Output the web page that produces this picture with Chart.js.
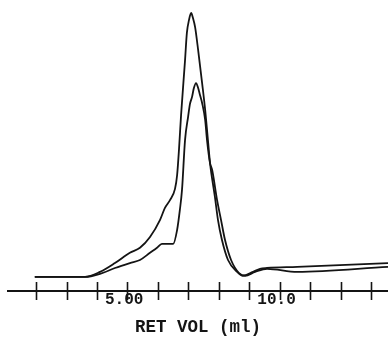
<!DOCTYPE html>
<html>
<head>
<meta charset="utf-8">
<script src="https://cdn.jsdelivr.net/npm/chart.js@4/dist/chart.umd.min.js"></script>
<style>
  html, body { margin: 0; padding: 0; background: #fff; }
  canvas { display: block; }
</style>
</head>
<body>
<canvas id="retChart" width="388" height="337"></canvas>
<script>
// retention volume (ml) and detector response
const volA = [2.96, 3.79, 4.61, 5.10, 5.59, 6.08, 6.41, 6.74, 7.07, 7.23, 7.40, 7.56, 7.63, 7.69, 7.76, 7.89, 7.95, 8.02, 8.09, 8.15, 8.22, 8.32, 8.45, 8.55, 8.64, 8.71, 8.87, 8.97, 9.10, 9.30, 9.60, 9.79, 10.12, 10.35, 10.58, 11.57, 14.55];
const respA = [4.7, 4.7, 4.7, 6.5, 9.7, 13.4, 15.2, 19.1, 25.3, 29.6, 32.5, 36.5, 41.5, 50.5, 63.2, 83.0, 92.8, 97.5, 100.0, 98.2, 94.9, 86.6, 74.7, 65.0, 54.2, 45.8, 33.6, 25.3, 18.1, 10.8, 6.5, 5.1, 6.5, 7.6, 7.9, 8.3, 9.7];

const volB = [2.96, 3.79, 4.61, 5.10, 5.59, 6.08, 6.41, 6.74, 6.97, 7.13, 7.50, 7.63, 7.72, 7.79, 7.89, 7.99, 8.05, 8.12, 8.18, 8.25, 8.32, 8.38, 8.45, 8.55, 8.61, 8.71, 8.78, 8.94, 9.07, 9.20, 9.40, 9.66, 9.86, 10.19, 10.58, 11.57, 14.55];
const respB = [4.7, 4.7, 4.7, 5.8, 7.9, 9.7, 10.8, 13.4, 15.2, 16.6, 16.6, 21.7, 28.9, 36.1, 54.2, 62.5, 67.1, 69.7, 72.9, 74.7, 72.9, 70.4, 67.5, 61.4, 54.2, 45.8, 43.3, 32.5, 25.3, 18.1, 10.8, 6.1, 5.1, 6.5, 7.6, 6.5, 8.3];

const tickValues = [3, 4, 5, 6, 7, 8, 9, 10, 11, 12, 13, 14];
const tickLabels = { 5: "5.00", 10: "10.0" };

const ink = "#141414";
const monoFont = "'Liberation Mono', 'DejaVu Sans Mono', monospace";

const toPoints = (xs, ys) => xs.map((x, i) => ({ x: x, y: ys[i] }));

// tick marks cross the axis line, so draw them here from the x scale
const crossTicks = {
  id: "crossTicks",
  afterDraw(chart) {
    const xs = chart.scales.x;
    const ctx = chart.ctx;
    const y0 = xs.top;
    ctx.save();
    ctx.strokeStyle = ink;
    ctx.lineWidth = 1.6;
    tickValues.forEach((v) => {
      const px = Math.round(xs.getPixelForValue(v)) + 0.5;
      ctx.beginPath();
      ctx.moveTo(px, y0 - 9);
      ctx.lineTo(px, y0 + 9);
      ctx.stroke();
    });
    ctx.restore();
  },
};

new Chart(document.getElementById("retChart"), {
  type: "line",
  data: {
    datasets: [
      {
        label: "run A",
        data: toPoints(volA, respA),
        borderColor: ink,
        borderWidth: 1.8,
        pointRadius: 0,
        cubicInterpolationMode: "monotone",
        fill: false,
      },
      {
        label: "run B",
        data: toPoints(volB, respB),
        borderColor: ink,
        borderWidth: 1.8,
        pointRadius: 0,
        cubicInterpolationMode: "monotone",
        fill: false,
      },
    ],
  },
  options: {
    responsive: false,
    devicePixelRatio: 1,
    animation: false,
    layout: { padding: { left: 8, right: 0, top: 0, bottom: 0 } },
    plugins: {
      legend: { display: false },
      tooltip: { enabled: false },
    },
    scales: {
      x: {
        type: "linear",
        min: 2.08,
        max: 14.55,
        afterBuildTicks: (scale) => {
          scale.ticks = tickValues.map((v) => ({ value: v }));
        },
        afterFit: (scale) => {
          scale.height = 46;
        },
        grid: { display: false, drawTicks: false },
        border: { display: true, color: ink, width: 2 },
        ticks: {
          autoSkip: false,
          maxRotation: 0,
          minRotation: 0,
          align: "start",
          labelOffset: 8,
          padding: 0,
          color: ink,
          font: { family: monoFont, size: 16, weight: "bold", lineHeight: 1.1 },
          callback: (v) => tickLabels[v] || "",
        },
        title: {
          display: true,
          text: "RET VOL (ml)",
          color: ink,
          padding: 0,
          font: { family: monoFont, size: 17.5, weight: "bold", lineHeight: 1.1 },
        },
      },
      y: {
        display: false,
        min: -0.4,
        max: 104.7,
      },
    },
  },
  plugins: [crossTicks],
});
</script>
</body>
</html>
